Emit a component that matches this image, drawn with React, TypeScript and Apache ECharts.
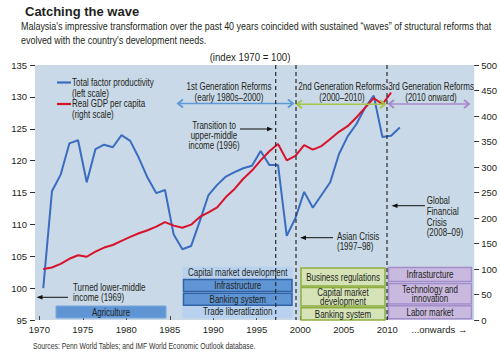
import React, { useEffect, useRef } from "react";
import * as echarts from "echarts";

const years = [
  1970, 1971, 1972, 1973, 1974, 1975, 1976, 1977, 1978, 1979,
  1980, 1981, 1982, 1983, 1984, 1985, 1986, 1987, 1988, 1989,
  1990, 1991, 1992, 1993, 1994, 1995, 1996, 1997, 1998, 1999,
  2000, 2001, 2002, 2003, 2004, 2005, 2006, 2007, 2008, 2009,
  2010, 2011,
];
const tfp = [
  100.0, 115.2, 117.8, 122.7, 123.2, 116.6, 121.8, 122.5, 122.1, 124.0,
  123.1, 120.4, 117.3, 114.9, 115.4, 108.4, 106.1, 106.6, 110.5, 114.6,
  116.2, 117.5, 118.2, 118.8, 119.2, 121.5, 119.3, 119.3, 108.2, 111.0,
  115.1, 112.6, 114.6, 116.6, 121.0, 123.8, 125.7, 128.3, 130.2, 123.7,
  123.9, 125.2,
];
const gdp = [
  100, 103, 110, 120, 127, 124, 134, 142, 147, 155,
  163, 170, 176, 183, 192, 185, 181, 187, 202, 211,
  221, 241, 257, 277, 293, 313, 331, 345, 313, 322,
  343, 334, 341, 355, 369, 380, 397, 416, 435, 423,
  446,
];
const leftTicks = [95, 135, 5];
const rightTicks = [0, 500, 50];
const xLabelYears = [1970, 1975, 1980, 1985, 1990, 1995, 2000, 2005, 2010];
const onwardsValue = 2016;

const F = "'Liberation Sans',Arial,sans-serif";
const INK = "#231f20";
const SX = 0.8;

function txt(x: number, y: number, text: string, opts: any = {}) {
  return {
    type: "text",
    x,
    y,
    z: 20,
    scaleX: opts.sx ?? SX,
    style: {
      text,
      fill: opts.fill || INK,
      font: `${opts.weight || "normal"} ${opts.size || 10}px ${F}`,
      textAlign: opts.align || "left",
      textVerticalAlign: opts.valign || "middle",
      lineHeight: opts.lh || 10,
    },
  };
}

function hline(x1: number, x2: number, y: number, color: string, w = 1.2) {
  return {
    type: "line",
    z: 20,
    shape: { x1, y1: y, x2, y2: y },
    style: { stroke: color, lineWidth: w },
  };
}

function chevron(x: number, y: number, dir: number, color: string, s = 5, w = 2) {
  return {
    type: "polyline",
    z: 21,
    shape: { points: [[x - dir * s, y - s * 0.8], [x, y], [x - dir * s, y + s * 0.8]] },
    style: { stroke: color, lineWidth: w, fill: "none" },
  };
}

function tri(x: number, y: number, dir: number, color: string) {
  return {
    type: "polygon",
    z: 21,
    shape: { points: [[x, y], [x - dir * 6, y - 2.2], [x - dir * 6, y + 2.2]] },
    style: { fill: color },
  };
}

function box(x: number, y: number, w: number, h: number, fill: string, stroke: string | null, label: string, lw = 1.5) {
  return [
    {
      type: "rect",
      z: 10,
      shape: { x, y, width: w, height: h },
      style: { fill, stroke: stroke || "none", lineWidth: stroke ? lw : 0 },
    },
    txt(x + w / 2, y + h / 2 + 0.5, label, { align: "center", size: 10, lh: 9.5 }),
  ];
}

export default function App() {
  const ref = useRef<HTMLDivElement>(null);
  useEffect(() => {
    if (!ref.current) return;
    const chart = echarts.init(ref.current, undefined, { renderer: "svg" });
    const blue = "#3a6cc0";
    const red = "#d9122c";
    const reformBlue = "#5f9ad6";
    const reformGreen = "#a6c64a";
    const reformPurple = "#a58bc9";
    const dash = (x: number) => ({
      type: "line",
      z: 30,
      shape: { x1: x, y1: 65, x2: x, y2: 320 },
      style: { stroke: "#2a2a2a", lineWidth: 1.2, lineDash: [4, 3] },
    });
    const graphic: any[] = [
      txt(21, 26, "Malaysia's impressive transformation over the past 40 years coincided with sustained \u201cwaves\u201d of structural reforms that", { size: 11, sx: 0.815 }),
      txt(21, 40.5, "evolved with the country's development needs.", { size: 11, sx: 0.815 }),
      txt(250, 57, "(index 1970 = 100)", { align: "center", size: 10.5, sx: 0.92 }),
      // legend
      hline(57, 71, 82.5, blue, 2.2),
      txt(72, 82.5, "Total factor productivity", {}),
      txt(72, 93.5, "(left scale)", {}),
      hline(57, 71, 104, red, 2.2),
      txt(72, 104, "Real GDP per capita", {}),
      txt(72, 115, "(right scale)", {}),
      // reform headers
      txt(229, 87, "1st Generation Reforms", { align: "center" }),
      txt(229, 97.5, "(early 1980s\u20132000)", { align: "center" }),
      hline(178, 293, 103.5, reformBlue, 1.5),
      chevron(178, 103.5, -1, reformBlue),
      chevron(293, 103.5, 1, reformBlue),
      txt(342, 87, "2nd Generation Reforms", { align: "center" }),
      txt(342, 97.5, "(2000\u20132010)", { align: "center" }),
      hline(297, 385, 104.3, reformGreen, 1.5),
      chevron(297, 104.3, -1, reformGreen),
      chevron(385, 104.3, 1, reformGreen),
      txt(431, 87, "3rd Generation Reforms", { align: "center" }),
      txt(431, 97.5, "(2010 onward)", { align: "center" }),
      hline(389, 469, 104, reformPurple, 1.5),
      chevron(389, 104, -1, reformPurple),
      chevron(469, 104, 1, reformPurple),
      // annotations
      txt(214, 125.7, "Transition to", { align: "center" }),
      txt(214, 135.7, "upper-middle", { align: "center" }),
      txt(214, 145.7, "income (1996)", { align: "center" }),
      hline(240, 268, 129, "#111", 1),
      tri(273, 129, 1, "#111"),
      txt(337, 236.7, "Asian Crisis", {}),
      txt(337, 246.7, "(1997\u201398)", {}),
      hline(305, 333, 237.7, "#111", 1),
      tri(300, 237.7, -1, "#111"),
      txt(426.7, 201, "Global", {}),
      txt(426.7, 211.7, "Financial", {}),
      txt(426.7, 222.3, "Crisis", {}),
      txt(426.7, 233, "(2008\u201309)", {}),
      hline(396, 425, 205.7, "#111", 1),
      tri(391.5, 205.7, -1, "#111"),
      txt(73, 287.7, "Turned lower-middle", {}),
      txt(73, 297.7, "income (1969)", {}),
      hline(41, 68, 297.3, "#111", 1),
      tri(36.5, 297.3, -1, "#111"),
      // blue boxes
      ...box(56, 306, 110, 12, "#5f95d4", "#79a7dc", "Agriculture", 1),
      {
        type: "rect",
        z: 9,
        shape: { x: 182.7, y: 266.7, width: 110, height: 51.5 },
        style: { fill: "#b8d1ee" },
      },
      txt(237.7, 273, "Capital market development", { align: "center" }),
      ...box(183.5, 279.5, 108.5, 12, "#5f95d4", "#2f63a6", "Infrastructure"),
      ...box(183.5, 293.3, 108.5, 12, "#5f95d4", "#2f63a6", "Banking system"),
      txt(237.7, 312, "Trade liberatlization", { align: "center" }),
      // green boxes
      ...box(301, 268, 84, 18, "#d5e3b6", "#8fae3e", "Business regulations"),
      ...box(301, 287.5, 84, 18.5, "#d5e3b6", "#8fae3e", "Capital market\ndevelopment"),
      ...box(301, 307.7, 84, 12.3, "#d5e3b6", "#8fae3e", "Banking system"),
      // purple boxes
      ...box(388.5, 267.5, 83, 14, "#c9b9df", "#a58ccb", "Infrasturcture"),
      ...box(388.5, 283.5, 83, 20.5, "#c9b9df", "#a58ccb", "Technology and\ninnovation"),
      ...box(388.5, 305.7, 83, 13, "#c9b9df", "#a58ccb", "Labor market"),
      // dashed lines
      dash(275.7),
      dash(296),
      dash(387),
      txt(33, 346.5, "Sources: Penn World Tables; and IMF World Economic Outlook database.", { size: 8.5, fill: "#333" }),
    ];

    const axisLabelStyle = { color: INK, fontFamily: F, fontSize: 9.5 };
    chart.setOption({
      animation: false,
      title: {
        text: "Catching the wave",
        left: 20,
        top: 0,
        textStyle: { fontFamily: F, fontWeight: "bold", fontSize: 13, color: INK },
      },
      grid: {
        left: 35,
        right: 21,
        top: 65,
        bottom: 32,
        show: true,
        backgroundColor: "#c9d9e7",
        borderWidth: 0,
      },
      xAxis: [
        {
          type: "value",
          min: 1969.5,
          max: 2020,
          splitLine: { show: false },
          axisLine: { show: false },
          axisTick: {
            show: true,
            inside: true,
            length: 4,
            customValues: xLabelYears,
            lineStyle: { color: "#444" },
          },
          axisLabel: {
            ...axisLabelStyle,
            margin: 4,
            customValues: [...xLabelYears, onwardsValue],
            formatter: (v: number) => (v === onwardsValue ? "...onwards \u2192" : String(v)),
          },
        },
        {
          type: "value",
          min: 1969.05,
          max: 2019.55,
          show: false,
        },
      ],
      yAxis: [
        {
          type: "value",
          min: leftTicks[0],
          max: leftTicks[1],
          interval: leftTicks[2],
          position: "left",
          splitLine: { show: false },
          axisLine: { show: false },
          axisTick: { show: true, length: 5, lineStyle: { color: "#333" } },
          axisLabel: { ...axisLabelStyle, margin: 8 },
        },
        {
          type: "value",
          min: rightTicks[0],
          max: rightTicks[1],
          interval: rightTicks[2],
          position: "right",
          splitLine: { show: false },
          axisLine: { show: false },
          axisTick: { show: true, length: 5, lineStyle: { color: "#333" } },
          axisLabel: { ...axisLabelStyle, margin: 7 },
        },
      ],
      series: [
        {
          name: "Total factor productivity",
          type: "line",
          xAxisIndex: 1,
          yAxisIndex: 0,
          showSymbol: false,
          z: 5,
          lineStyle: { color: blue, width: 2 },
          data: years.map((y, i) => [y, tfp[i]]),
        },
        {
          name: "Real GDP per capita",
          type: "line",
          xAxisIndex: 1,
          yAxisIndex: 1,
          showSymbol: false,
          z: 6,
          lineStyle: { color: red, width: 2 },
          data: gdp.map((v, i) => [years[i], v]),
        },
      ],
      graphic,
    });
    return () => chart.dispose();
  }, []);
  return <div ref={ref} style={{ width: 500, height: 352, position: "absolute", left: 0, top: 0 }} />;
}
